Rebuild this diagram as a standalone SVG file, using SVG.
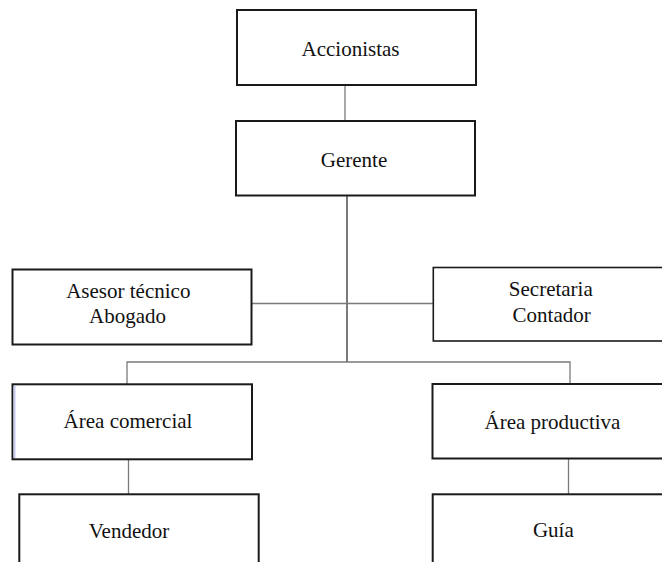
<svg xmlns="http://www.w3.org/2000/svg" width="662" height="562" viewBox="0 0 662 562">
<style>
.box{fill:#fff;stroke:#1a1a1a;stroke-width:2}
.t{font-family:"Liberation Serif","Times New Roman",serif;font-size:21px;fill:#111;text-anchor:middle}
.c{stroke:#7a7a7a;stroke-width:1.3;fill:none}
</style>
<rect width="662" height="562" fill="#fff"/>
<g id="connectors">
<line class="c" x1="345" y1="85" x2="345" y2="121"/>
<line class="c" x1="347" y1="196" x2="347" y2="362" style="stroke:#333"/>
<line class="c" x1="252" y1="303.5" x2="433" y2="303.5"/>
<polyline class="c" points="127,384 127,362 570,362 570,384"/>
<line class="c" x1="128.5" y1="459" x2="128.5" y2="494"/>
<line class="c" x1="568.5" y1="458" x2="568.5" y2="494"/>
</g>
<g id="accionistas">
<rect class="box" x="237" y="10" width="239" height="75"/>
<text class="t" x="350.5" y="56">Accionistas</text>
</g>
<g id="gerente">
<rect class="box" x="236" y="121" width="239" height="74.5"/>
<text class="t" x="354" y="166.5">Gerente</text>
</g>
<g id="asesor">
<rect class="box" x="12.5" y="269.5" width="239" height="75"/>
<text class="t" x="128.3" y="298.3">Asesor técnico</text>
<text class="t" x="127.5" y="323.3">Abogado</text>
</g>
<g id="secretaria">
<rect class="box" x="433.3" y="267.5" width="240" height="73.5" style="stroke-width:1.6"/>
<text class="t" x="550.8" y="296">Secretaria</text>
<text class="t" x="551.7" y="321.7">Contador</text>
</g>
<g id="area-comercial">
<rect class="box" x="12.5" y="384.3" width="239.5" height="75"/>
<line x1="14.5" y1="386" x2="14.5" y2="458" stroke="#c8c8f5" stroke-width="2"/>
<text class="t" x="128" y="428.3">Área comercial</text>
</g>
<g id="area-productiva">
<rect class="box" x="432.5" y="384" width="240" height="74.5"/>
<text class="t" x="552.5" y="429.3">Área productiva</text>
</g>
<g id="vendedor">
<rect class="box" x="19.3" y="494.3" width="239.4" height="90"/>
<text class="t" x="129" y="538.3">Vendedor</text>
</g>
<g id="guia">
<rect class="box" x="432.7" y="494.3" width="240" height="90"/>
<text class="t" x="553.3" y="536.7">Guía</text>
</g>
</svg>
